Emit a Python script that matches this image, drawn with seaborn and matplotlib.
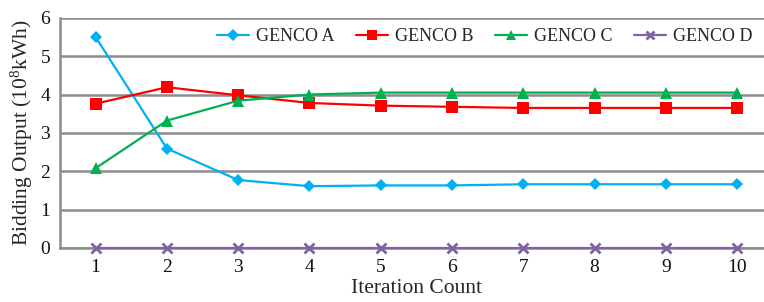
import matplotlib
matplotlib.use("Agg")
import matplotlib.pyplot as plt
import seaborn as sns
import pandas as pd

iterations = [1, 2, 3, 4, 5, 6, 7, 8, 9, 10]
genco_a = [5.50, 2.59, 1.77, 1.61, 1.63, 1.63, 1.66, 1.66, 1.66, 1.66]
genco_b = [3.76, 4.19, 3.98, 3.78, 3.71, 3.68, 3.65, 3.65, 3.65, 3.65]
genco_c = [2.08, 3.32, 3.84, 4.00, 4.05, 4.05, 4.05, 4.05, 4.05, 4.05]
genco_d = [0, 0, 0, 0, 0, 0, 0, 0, 0, 0]
names = ["GENCO A", "GENCO B", "GENCO C", "GENCO D"]

sns.set_style("white")
plt.rcParams['font.family'] = ['Liberation Serif', 'DejaVu Serif']
plt.rcParams['mathtext.fontset'] = 'custom'
plt.rcParams['mathtext.rm'] = 'Liberation Serif'
plt.rcParams['mathtext.it'] = 'Liberation Serif'

fig = plt.figure(figsize=(7.64, 3.02), dpi=100)
ax = fig.add_axes([0.0785, 0.179, 0.933, 0.762])

styles = [
    dict(color="#00B0F0", marker="D", markersize=6.5, mew=0),
    dict(color="#FF0000", marker="s", markersize=8, mew=0),
    dict(color="#00B050", marker="^", markersize=8, mew=0),
    dict(color="#8064A2", marker="x", markersize=7, mew=2),
]
for name, vals, st in zip(names, [genco_a, genco_b, genco_c, genco_d], styles):
    df = pd.DataFrame({"x": iterations, "y": vals})
    sns.lineplot(data=df, x="x", y="y", ax=ax, label=name, lw=1.6,
                 color=st["color"], marker=st["marker"], markersize=st["markersize"],
                 markeredgewidth=st["mew"], markeredgecolor=st["color"], zorder=5,
                 clip_on=False)

ax.set_xlim(0.5, 10.5)
ax.set_ylim(0, 6)
ax.set_xticks(iterations)
ax.set_yticks([0, 1, 2, 3, 4, 5, 6])
ax.yaxis.grid(True, color="#8C8C8C", lw=1.8)
ax.set_axisbelow(True)
for s in ["top", "right"]:
    ax.spines[s].set_visible(False)
ax.spines["left"].set_color("#8C8C8C")
ax.spines["left"].set_linewidth(1.8)
ax.spines["bottom"].set_color("#8C8C8C")
ax.spines["bottom"].set_linewidth(1.8)
ax.tick_params(axis="both", length=0, labelsize=14, colors="#111111")
ax.tick_params(axis="x", pad=8)
ax.tick_params(axis="y", pad=7)
ax.set_xlabel("Iteration Count", fontsize=15.5, labelpad=2)
ax.set_ylabel(r"Bidding Output (10$^{8}$kWh)", fontsize=15.5, labelpad=4)

leg = ax.legend(loc="center left", bbox_to_anchor=(0.205, 0.918), ncol=4,
                frameon=True, fancybox=False, edgecolor="white", facecolor="white",
                framealpha=1, fontsize=13, handlelength=1.8, handletextpad=0.35,
                columnspacing=1.2, borderpad=0.1, markerscale=0.9)
leg.set_zorder(10)

fig.savefig("out.png", dpi=100)
